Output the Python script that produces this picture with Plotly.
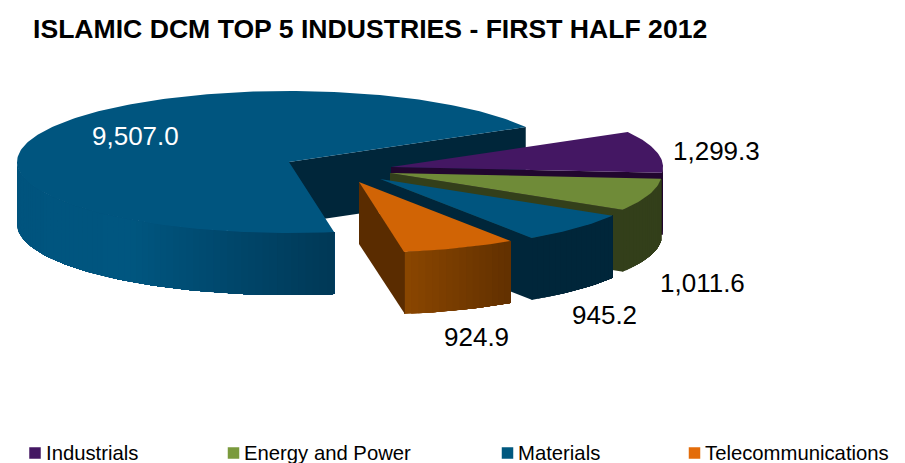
import numpy as np
import plotly.graph_objects as go

# Data
legend_names = ["Industrials", "Energy and Power", "Materials", "Telecommunications"]
slice_values = [1299.3, 1011.6, 945.2, 924.9, 9507.0]

# Colours per slice: top face, radial wall, outer-wall gradient stops (x, colour)
top_colors = ["#441763", "#6f8b38", "#00557f", "#d16405", "#00557f"]
radial_colors = ["#21062f", "#333f1a", "#00263a", "#5a2c00", "#00263a"]
rim_stops = [
    [(0, (33, 6, 47)), (905, (33, 6, 47))],
    [(0, (51, 63, 26)), (905, (51, 63, 26))],
    [(0, (0, 38, 58)), (905, (0, 38, 58))],
    [(406, (138, 70, 0)), (512, (97, 48, 0))],
    [(17, (0, 84, 126)), (130, (0, 86, 128)), (335, (0, 56, 86))],
]
legend_colors = ["#441763", "#7a9a3c", "#00587f", "#e36c0a"]

# Projection of the pie onto the page, in pixels
RX, RY, DEPTH = 272, 71, 62
CENTER = (289, 162)
START_DEG = 29.5
WALL_OVERLAP = 0.8  # the flat wall laps over the rim to hide the join
explode = [(102, 5), (101, 11), (91, 17), (70, 20), (0, 0)]
value_label_pos = [(716, 151), (702, 283), (604, 315), (476, 337), (135, 136)]
value_label_color = ["#000000"] * 4 + ["#ffffff"]
legend_marker_x = [35, 233.5, 507.5, 694.5]
legend_text_x = [44, 242, 516, 703]
LEGEND_Y = 453

fig = go.Figure()


def poly(xs, ys, color):
    fig.add_trace(go.Scatter(
        x=xs, y=ys, mode="lines", fill="toself", fillcolor=color,
        line=dict(color=color, width=0), hoverinfo="skip", showlegend=False,
    ))


def rim_color(stops, x):
    px = [s[0] for s in stops]
    rgb = [np.interp(x, px, [s[1][k] for s in stops]) for k in range(3)]
    return "rgb(%d,%d,%d)" % tuple(int(round(c)) for c in rgb)


# Slice angles run clockwise from the start angle
sweeps = np.array(slice_values) / sum(slice_values) * 360
his = START_DEG - np.concatenate([[0], np.cumsum(sweeps)[:-1]])
los = his - sweeps


def point(i, deg):
    t = np.radians(deg)
    return (CENTER[0] + explode[i][0] + RX * np.cos(t),
            CENTER[1] + explode[i][1] - RY * np.sin(t))


# Back-to-front: the large slice first, then the small ones clockwise
for i in [4, 0, 1, 2, 3]:
    apex = (CENTER[0] + explode[i][0], CENTER[1] + explode[i][1])
    lo, hi = los[i], his[i]

    # curved outer wall, front half only; each band runs to the right-hand end
    # and the next one paints over it, which leaves no seams
    a0, a1 = max(lo, -180), min(hi, 0)
    if a1 > a0:
        edges = np.linspace(a0, a1, max(2, int((a1 - a0) / 1.5) + 1))
        for k in range(len(edges) - 1):
            top = [point(i, d) for d in edges[k:]]
            xs = [p[0] for p in top] + [p[0] for p in top[::-1]]
            ys = [p[1] for p in top] + [p[1] + DEPTH for p in top[::-1]]
            color = rim_color(rim_stops[i], (top[0][0] + top[1][0]) / 2)
            poly(xs + xs[:1], ys + ys[:1], color)

    # flat wall along the clockwise edge
    ex, ey = point(i, lo)
    wx = ex + WALL_OVERLAP if i != 4 else ex
    poly([apex[0], wx, wx, apex[0], apex[0]],
         [apex[1], ey, ey + DEPTH, apex[1] + DEPTH, apex[1]], radial_colors[i])

    # top face
    arc = np.linspace(lo, hi, max(3, int(sweeps[i]) + 1))
    pts = [point(i, d) for d in arc]
    poly([apex[0]] + [p[0] for p in pts] + [apex[0]],
         [apex[1]] + [p[1] for p in pts] + [apex[1]], top_colors[i])

# Value labels
for v, (x, y), c in zip(slice_values, value_label_pos, value_label_color):
    fig.add_annotation(x=x, y=y, text=f"{v:,.1f}", showarrow=False,
                       font=dict(size=26, color=c), xanchor="center", yanchor="middle")

# Legend row
fig.add_trace(go.Scatter(
    x=legend_marker_x, y=[LEGEND_Y] * 4, mode="markers", hoverinfo="skip", showlegend=False,
    marker=dict(symbol="square", size=11.5, color=legend_colors),
))
for name, x in zip(legend_names, legend_text_x):
    fig.add_annotation(x=x, y=LEGEND_Y, text=name, showarrow=False,
                       font=dict(size=20.3, color="#000000"), xanchor="left", yanchor="middle")

# Title
fig.add_annotation(x=31, y=29, text="<b>ISLAMIC DCM TOP 5 INDUSTRIES - FIRST HALF 2012</b>",
                   showarrow=False, font=dict(size=26.6, color="#000000"),
                   xanchor="left", yanchor="middle")

fig.update_layout(
    width=905, height=463, margin=dict(l=0, r=0, t=0, b=0),
    paper_bgcolor="#ffffff", plot_bgcolor="#ffffff",
    font=dict(family="Liberation Sans, Arial, sans-serif"),
    xaxis=dict(range=[0, 905], visible=False, fixedrange=True),
    yaxis=dict(range=[463, 0], visible=False, fixedrange=True),
)

fig.write_html("out.html", config={"displayModeBar": False})
